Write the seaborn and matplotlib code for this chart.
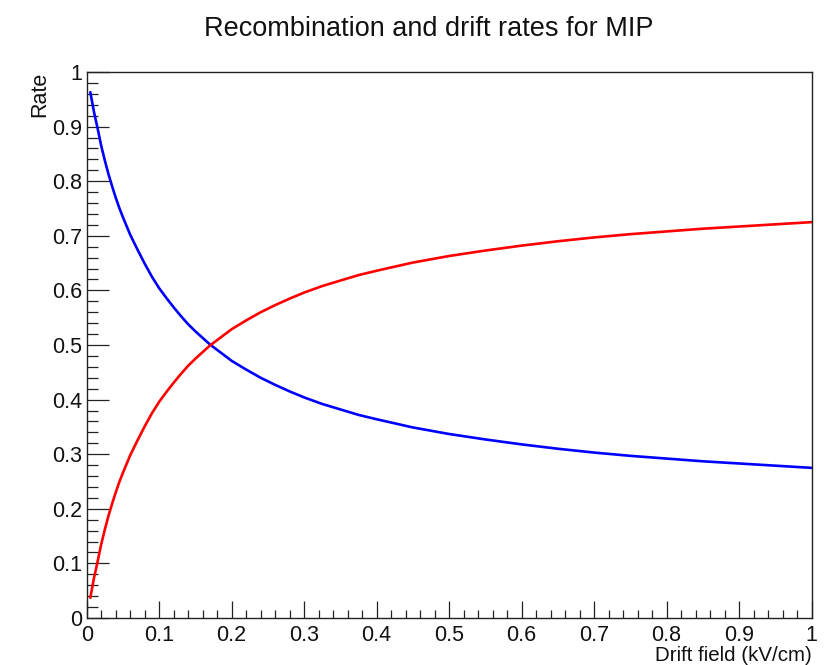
import matplotlib
matplotlib.use("Agg")
import matplotlib.pyplot as plt
from matplotlib.ticker import MultipleLocator, FuncFormatter
import seaborn as sns
import pandas as pd

# ---- data ----
drift_field = [0.005, 0.0075, 0.01, 0.0125, 0.015, 0.02, 0.025, 0.03, 0.035, 0.04,
               0.045, 0.05, 0.06, 0.07, 0.08, 0.09, 0.10, 0.11, 0.12, 0.13,
               0.14, 0.15, 0.16, 0.17, 0.18, 0.19, 0.20, 0.22, 0.24, 0.26,
               0.28, 0.30, 0.325, 0.35, 0.375, 0.40, 0.45, 0.50, 0.55, 0.60,
               0.65, 0.70, 0.75, 0.80, 0.85, 0.90, 0.95, 1.0]
rate_blue = [0.963, 0.945, 0.927, 0.912, 0.897, 0.865, 0.838, 0.813, 0.791, 0.770,
             0.751, 0.734, 0.702, 0.675, 0.649, 0.625, 0.604, 0.586, 0.569, 0.553,
             0.538, 0.525, 0.513, 0.501, 0.491, 0.481, 0.471, 0.455, 0.440, 0.427,
             0.415, 0.404, 0.392, 0.382, 0.372, 0.364, 0.349, 0.337, 0.327, 0.318,
             0.310, 0.303, 0.297, 0.292, 0.287, 0.283, 0.279, 0.275]
rate_red = [0.037, 0.055, 0.073, 0.088, 0.103, 0.135, 0.162, 0.187, 0.209, 0.230,
            0.249, 0.266, 0.298, 0.325, 0.351, 0.375, 0.396, 0.414, 0.431, 0.447,
            0.462, 0.475, 0.487, 0.499, 0.509, 0.519, 0.529, 0.545, 0.560, 0.573,
            0.585, 0.596, 0.608, 0.618, 0.628, 0.636, 0.651, 0.663, 0.673, 0.682,
            0.690, 0.697, 0.703, 0.708, 0.713, 0.717, 0.721, 0.725]

title_text = "Recombination and drift rates for MIP"
x_label = "Drift field (kV/cm)"
y_label = "Rate"

df = pd.concat([
    pd.DataFrame({"field": drift_field, "rate": rate_blue, "series": "blue"}),
    pd.DataFrame({"field": drift_field, "rate": rate_red, "series": "red"}),
], ignore_index=True)

sns.set_style("white")
plt.rcParams["font.family"] = ["Liberation Sans", "DejaVu Sans"]

W, H = 837, 665
fig = plt.figure(figsize=(W / 100, H / 100), dpi=100)
ax = fig.add_axes([86.7 / W, 1 - 618 / H, (811.5 - 86.7) / W, (618 - 72) / H])

sns.lineplot(data=df, x="field", y="rate", hue="series",
             palette={"blue": "#0000ff", "red": "#ff0000"},
             estimator=None, sort=True, linewidth=1.9, legend=False, ax=ax)

ax.set_xlim(0, 1)
ax.set_ylim(0, 1)
ax.set_xlabel("")
ax.set_ylabel("")

ax.xaxis.set_major_locator(MultipleLocator(0.1))
ax.xaxis.set_minor_locator(MultipleLocator(0.02))
ax.yaxis.set_major_locator(MultipleLocator(0.1))
ax.yaxis.set_minor_locator(MultipleLocator(0.02))
fmt = FuncFormatter(lambda v, p: "%g" % round(v, 3))
ax.xaxis.set_major_formatter(fmt)
ax.yaxis.set_major_formatter(fmt)

for s in ax.spines.values():
    s.set_color("#222222")
    s.set_linewidth(1.0)

ax.tick_params(axis="both", which="both", direction="in", bottom=True, left=True,
               top=False, right=False, color="#222222", width=0.9,
               labelsize=15.5, labelcolor="#111111")
ax.tick_params(axis="x", which="major", length=12, pad=5.2)
ax.tick_params(axis="x", which="minor", length=6)
ax.tick_params(axis="y", which="major", length=15.6, pad=3.4)
ax.tick_params(axis="y", which="minor", length=7.7)

fig.text(428.5 / W, 1 - 36 / H, title_text, ha="center", va="baseline",
         fontsize=19.5, color="#111111")
fig.text(811.5 / W, 1 - 661 / H, x_label, ha="right", va="baseline",
         fontsize=14.8, color="#111111")
fig.text(50 / W, 1 - 72 / H, y_label, ha="right", va="top", rotation=90,
         fontsize=15.5, color="#111111")

fig.savefig("out.png", dpi=100)
